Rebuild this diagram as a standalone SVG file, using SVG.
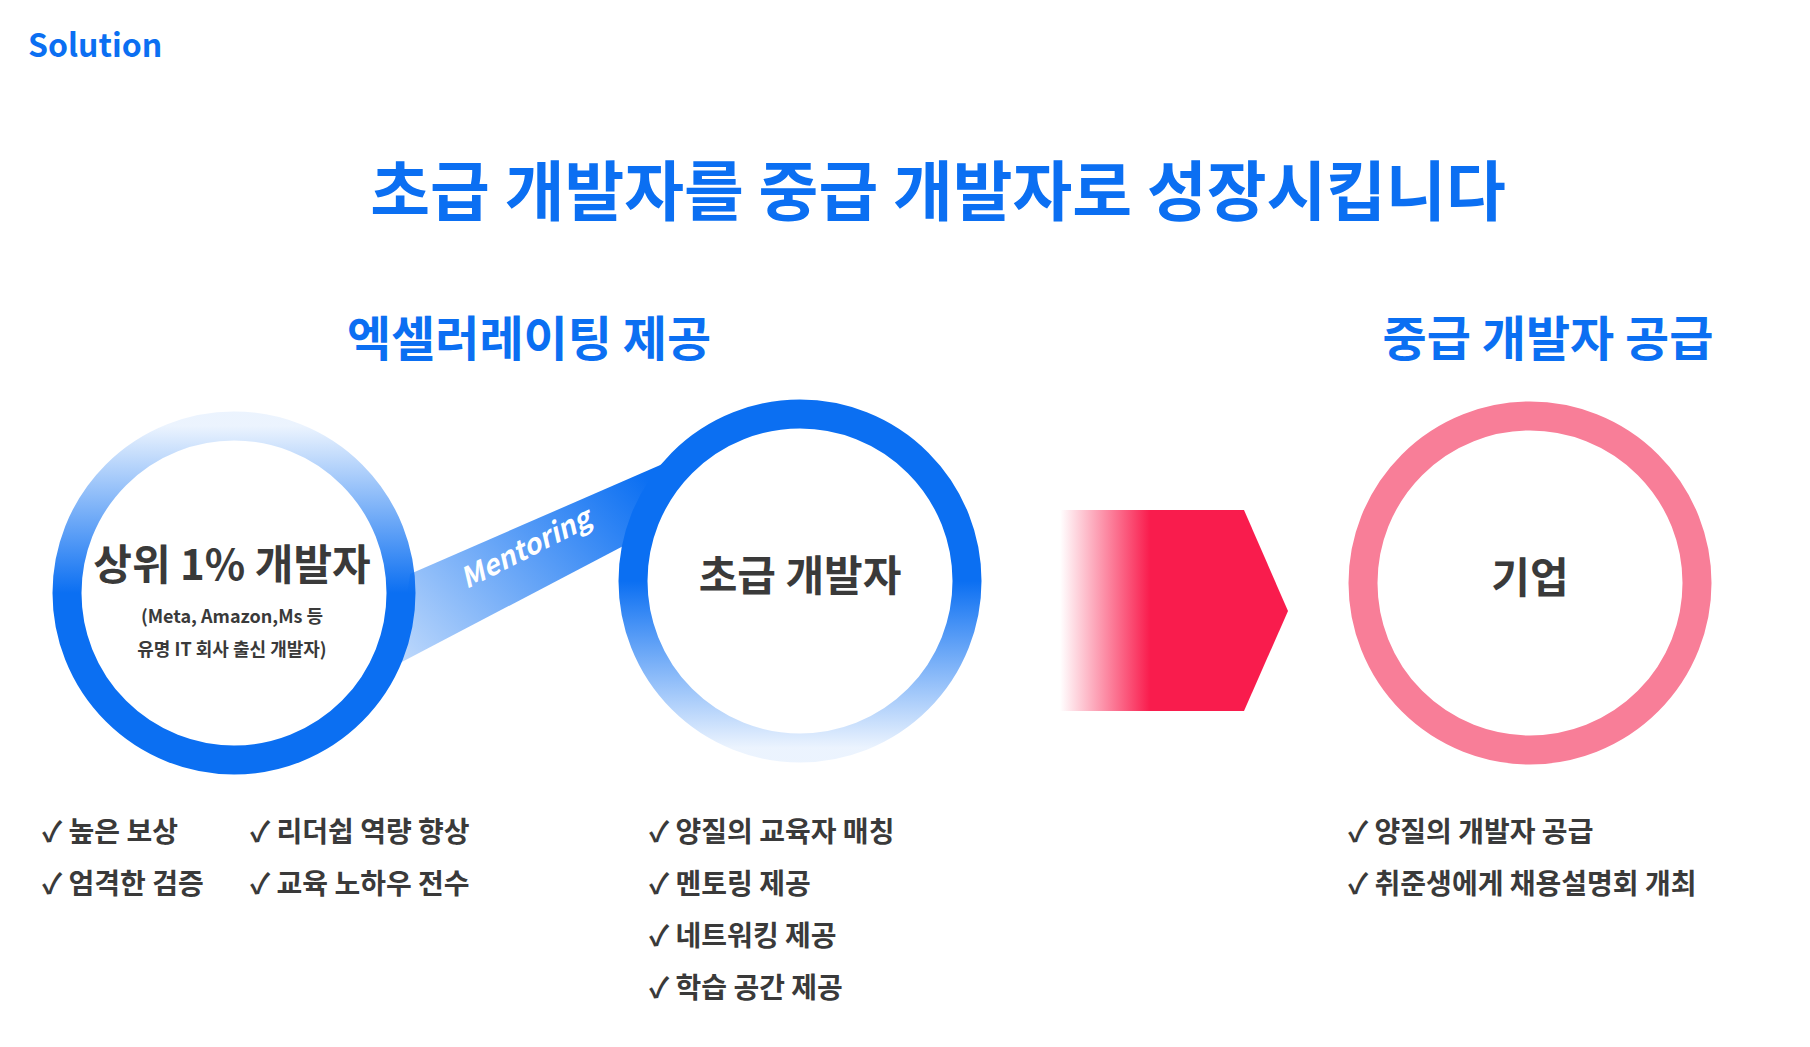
<svg xmlns="http://www.w3.org/2000/svg" width="1810" height="1047" viewBox="0 0 1810 1047">
<style>
.b{font-family:"Noto Sans CJK KR","Noto Sans",sans-serif;font-weight:700}
.blue{fill:#0b6ff2}
.dk{fill:#3a3a3a}
.li{font-size:28px;fill:#3a3a3a}
</style>
<defs>
<linearGradient id="g1" x1="0" y1="0" x2="0" y2="1"><stop offset="0" stop-color="#0b6ff2" stop-opacity="0.08"/><stop offset="0.5" stop-color="#0b6ff2"/><stop offset="1" stop-color="#0b6ff2"/></linearGradient>
<linearGradient id="g2" x1="0" y1="0" x2="0" y2="1"><stop offset="0" stop-color="#0b6ff2"/><stop offset="0.5" stop-color="#0b6ff2"/><stop offset="1" stop-color="#0b6ff2" stop-opacity="0.08"/></linearGradient>
<linearGradient id="gb" gradientUnits="userSpaceOnUse" x1="400" y1="670" x2="630" y2="460"><stop offset="0" stop-color="#0b6ff2" stop-opacity="0.25"/><stop offset="1" stop-color="#0b6ff2"/></linearGradient>
<linearGradient id="gr" gradientUnits="userSpaceOnUse" x1="1060" y1="0" x2="1150" y2="0"><stop offset="0" stop-color="#f91c4d" stop-opacity="0"/><stop offset="1" stop-color="#f91c4d"/></linearGradient>
</defs>
<text x="28" y="57" class="b blue" font-size="32">Solution</text>
<text x="938" y="215" class="b blue" font-size="65" text-anchor="middle">초급 개발자를 중급 개발자로 성장시킵니다</text>
<text x="529" y="356" class="b blue" font-size="48" text-anchor="middle">엑셀러레이팅 제공</text>
<text x="1548" y="356" class="b blue" font-size="48" text-anchor="middle">중급 개발자 공급</text>
<g id="connectors">
<polygon id="band" points="410,574 681,456 629,543 398,664" fill="url(#gb)"/>
<text transform="translate(530,557) rotate(-27)" class="b" font-size="28" fill="#fff" font-style="italic" text-anchor="middle">Mentoring</text>
<polygon id="arrow" points="1060,510 1244,510 1288,611 1244,711 1060,711" fill="url(#gr)"/>
</g>
<g id="n1">
<circle cx="234" cy="593" r="167" fill="#fff" stroke="url(#g1)" stroke-width="29"/>
<text x="232" y="580" class="b dk" font-size="42" text-anchor="middle">상위 1% 개발자</text>
<text x="232" y="623" class="b dk" font-size="18" text-anchor="middle">(Meta, Amazon,Ms 등</text>
<text x="232" y="656" class="b dk" font-size="18" text-anchor="middle">유명 IT 회사 출신 개발자)</text>
</g>
<g id="n2">
<circle cx="800" cy="581" r="167" fill="#fff" stroke="url(#g2)" stroke-width="29"/>
<text x="800" y="591" class="b dk" font-size="42" text-anchor="middle">초급 개발자</text>
</g>
<g id="n3">
<circle cx="1530" cy="583" r="167" fill="#fff" stroke="#f87e98" stroke-width="29"/>
<text x="1530" y="593" class="b dk" font-size="42" text-anchor="middle">기업</text>
</g>
<g id="lists" class="b">
<text x="42" y="842" class="li">✓ 높은 보상</text>
<text x="42" y="894" class="li">✓ 엄격한 검증</text>
<text x="250" y="842" class="li">✓ 리더쉽 역량 향상</text>
<text x="250" y="894" class="li">✓ 교육 노하우 전수</text>
<text x="649" y="842" class="li">✓ 양질의 교육자 매칭</text>
<text x="649" y="894" class="li">✓ 멘토링 제공</text>
<text x="649" y="946" class="li">✓ 네트워킹 제공</text>
<text x="649" y="998" class="li">✓ 학습 공간 제공</text>
<text x="1348" y="842" class="li">✓ 양질의 개발자 공급</text>
<text x="1348" y="894" class="li">✓ 취준생에게 채용설명회 개최</text>
</g>
</svg>
